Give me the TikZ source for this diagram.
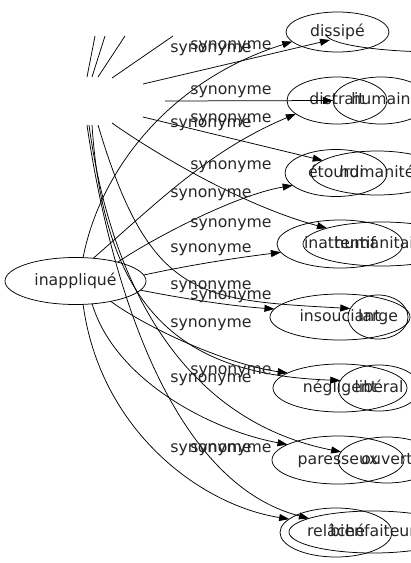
\documentclass[tikz,border=0pt]{standalone}
\usepackage{fontspec}
\setmainfont{DejaVu Sans}
\usetikzlibrary{shapes.geometric,arrows.meta}
\begin{document}
\begin{tikzpicture}[x=1pt,y=-1pt,
  every node/.style={font=\fontsize{15.7}{18}\selectfont, text=black!85},
  nd/.style={draw, ellipse, inner sep=0pt, outer sep=0pt, line width=0.75pt, text height=11.5pt, text depth=3.5pt},
  lbl/.style={anchor=base, inner sep=0pt},
  syn/.style={line width=0.75pt, -{Triangle[length=10pt,width=7pt]}},
  plainline/.style={line width=0.75pt}]
\useasboundingbox (0,0) rectangle (411,563);
\clip (0,0) rectangle (411,563);
% centre node
\node[nd, minimum width=141pt, minimum height=47pt] (inap) at (75.5,281) {inappliqué};
% graph A targets
\node[nd, minimum width=103pt, minimum height=40pt] (dissipe) at (337.5,32) {dissipé};
\node[nd, minimum width=100pt, minimum height=47pt] (distrait) at (337,100.5) {distrait};
\node[nd, minimum width=102pt, minimum height=47pt] (etourdi) at (336,173) {étourdi};
\node[nd, minimum width=126pt, minimum height=48pt] (inattentif) at (340,244) {inattentif};
\node[nd, minimum width=140pt, minimum height=46pt] (insouciant) at (340,317) {insouciant};
\node[nd, minimum width=134pt, minimum height=48pt] (negligent) at (340,388) {négligent};
\node[nd, minimum width=132pt, minimum height=48pt] (paresseux) at (338,460) {paresseux};
\node[nd, minimum width=112pt, minimum height=49pt] (relache) at (336,532.5) {relâché};
% graph B targets
\node[nd, minimum width=96pt, minimum height=47pt] (humain) at (381,100.5) {humain};
\node[nd, minimum width=132pt, minimum height=44pt] (humanite) at (377,173) {humanité};
\node[nd, minimum width=158pt, minimum height=44pt] (humanitaire) at (382,244) {humanitaire};
\node[nd, minimum width=60pt, minimum height=44pt] (large) at (378,317) {large};
\node[nd, minimum width=82pt, minimum height=46pt] (liberal) at (379,388) {libéral};
\node[nd, minimum width=98pt, minimum height=46pt] (ouvert) at (387,460) {ouvert};
\node[nd, minimum width=168pt, minimum height=42pt] (bienfaiteur) at (373,532) {bienfaiteur};
% partial ellipse at top right
\draw[plainline] (326,34) arc[start angle=180, end angle=40, x radius=114, y radius=18];
\coordinate (b1t) at (330,40);
% graph A edges
\draw[syn] (inap.72.3) .. controls (100,170) and (170,80) .. (dissipe.192.7);
\draw[syn] (inap.52.7) .. controls (160,200) and (210,150) .. (distrait.198.6);
\draw[syn] (inap.24.6) .. controls (150,240) and (235,195) .. (etourdi.196.1);
\draw[syn] (inap.5.9) .. controls (190,265) and (235,258) .. (inattentif.188.3);
\draw[syn] (inap.-8.8) .. controls (180,298) and (230,306) .. (insouciant.173.3);
\draw[syn] (inap.-30.7) .. controls (150,330) and (230,365) .. (negligent.164.7);
\draw[syn] (inap.-54.3) .. controls (115,380) and (210,430) .. (paresseux.163.2);
\draw[syn] (inap.-72.3) .. controls (100,430) and (200,505) .. (relache.164.3);
% graph B edge starts
\coordinate (u1) at (87,77);  \coordinate (u1e) at (95,36);
\coordinate (u2) at (92,77);  \coordinate (u2e) at (105,36);
\coordinate (u3) at (98,77);  \coordinate (u3e) at (125,36);
\coordinate (u4) at (112,78); \coordinate (u4e) at (173,36);
\coordinate (b1s) at (143,84);
\coordinate (b2s) at (165,101);
\coordinate (b3s) at (143,117);
\coordinate (b4s) at (112,123);
\coordinate (b5s) at (98,125);
\coordinate (b6s) at (92,125);
\coordinate (b7s) at (89,125);
\coordinate (b8s) at (87,125);
\draw[plainline] (u1) -- (u1e);
\draw[plainline] (u2) -- (u2e);
\draw[plainline] (u3) -- (u3e);
\draw[plainline] (u4) -- (u4e);
\draw[syn] (b1s) -- (b1t);
\draw[syn] (b2s) -- (humain.180);
\draw[syn] (b3s) -- (humanite.167.6);
\draw[syn] (b4s) .. controls (150,150) and (240,205) .. (humanitaire.164.3);
\draw[syn] (b5s) .. controls (150,300) and (200,300) .. (large.163.3);
\draw[syn] (b6s) .. controls (105,320) and (190,375) .. (liberal.169.3);
\draw[syn] (b7s) .. controls (110,280) and (180,420) .. (ouvert.170.3);
\draw[syn] (b8s) .. controls (105,250) and (160,480) .. (bienfaiteur.168.7);
% labels graph A
\node[lbl] (la1) at (211,52) {synonyme};
\node[lbl] (la2) at (211,127) {synonyme};
\node[lbl] (la3) at (211,197) {synonyme};
\node[lbl] (la4) at (211,252) {synonyme};
\node[lbl] (la5) at (211,289) {synonyme};
\node[lbl] (la6) at (211,327) {synonyme};
\node[lbl] (la7) at (211,382) {synonyme};
\node[lbl] (la8) at (211,452) {synonyme};
% labels graph B
\node[lbl] (lb1) at (231,49) {synonyme};
\node[lbl] (lb2) at (231,94) {synonyme};
\node[lbl] (lb3) at (231,122) {synonyme};
\node[lbl] (lb4) at (231,169) {synonyme};
\node[lbl] (lb5) at (231,227) {synonyme};
\node[lbl] (lb6) at (231,299) {synonyme};
\node[lbl] (lb7) at (231,374) {synonyme};
\node[lbl] (lb8) at (231,452) {synonyme};
\end{tikzpicture}
\end{document}
